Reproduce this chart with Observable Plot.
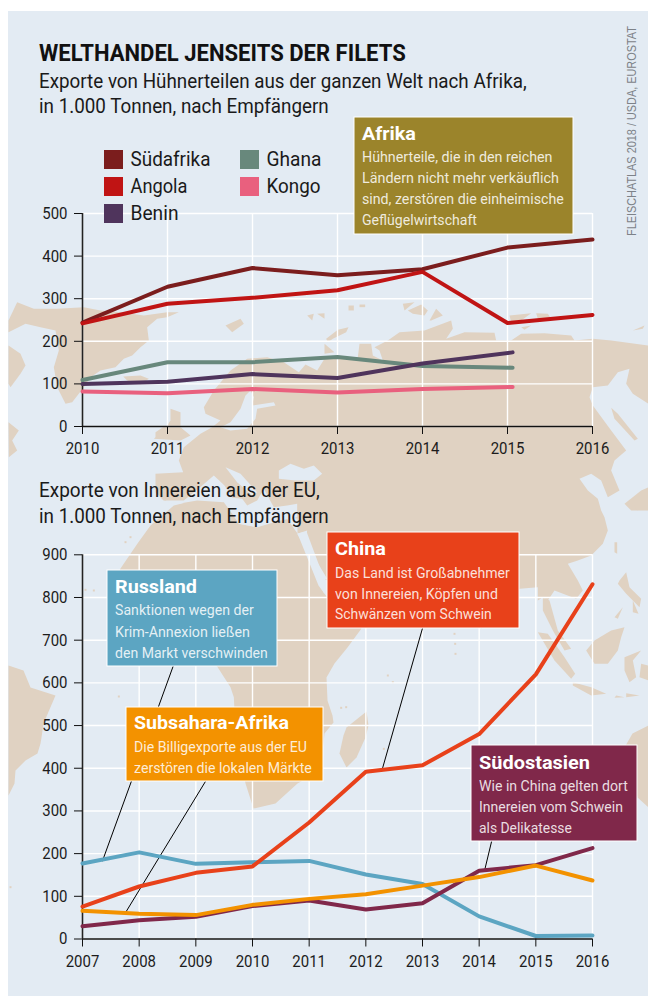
<!DOCTYPE html>
<html><head><meta charset="utf-8">
<script src="https://cdn.jsdelivr.net/npm/d3@7"></script>
<script src="https://cdn.jsdelivr.net/npm/@observablehq/plot@0.6"></script>
<style>
html,body{margin:0;padding:0;background:#fff}
#page{position:relative;width:648px;height:997px;overflow:hidden;background:#fff}
#panel{position:absolute;left:8px;top:11px;width:640px;height:985px;background:#e3ebf3}
svg{display:block}
</style></head><body><div id="page"><div id="panel"></div></div>
<script>
// ---- chart data ----
const yearsTop = [2010,2011,2012,2013,2014,2015,2016];
const yearsTopShort = [2010,2011,2012,2013,2014,2015.06];
const suedafrika = [244,328,372,355,369,420,439];
const angola     = [242,288,302,320,363,243,262];
const ghana      = [109,151,151,163,142,138];
const benin      = [100,105,123,114,148,174];
const kongo      = [82,78,88,80,88,93];

const yearsBottom = [2007,2008,2009,2010,2011,2012,2013,2014,2015,2016];
const russland    = [177,203,176,180,183,151,129,53,7,8];
const suedostasien= [30,44,52,77,90,69,84,160,173,213];
const china       = [76,123,155,170,273,392,407,480,620,831];
const subsahara   = [66,59,56,80,94,105,125,145,172,137];

const yTicksTop = [0,100,200,300,400,500];
const yTicksBottom = [0,100,200,300,400,500,600,700,800,900];

const colors = {Südafrika:"#7b1d1d",Angola:"#c01414",Ghana:"#68887c",Benin:"#4f345c",Kongo:"#e9607e",
  Russland:"#5ca5c2",Südostasien:"#80284a",China:"#e8411a",Subsahara:"#f39200",Afrika:"#9b842b"};

const leaders = [
  {x1:2008.6,y1:639,x2:2007.35,y2:182},
  {x1:2009.17,y1:369,x2:2007.76,y2:62},
  {x1:2013,y1:728,x2:2012.28,y2:393},
  {x1:2014.22,y1:229,x2:2014.1,y2:163}
];

const FONT = "Roboto, 'Liberation Sans', sans-serif";
const page = document.getElementById("page");

// ---- background world map (decorative, page pixel coordinates) ----
const tile=(ox,oy)=>p=>p.map(([x,y])=>[ox+x/3,oy+y/3]);
const z5=tile(0,290), z6=tile(324,290), z7=tile(0,500), z8=tile(324,500), z9=tile(100,410), z10=tile(0,720);
const eurasia = [
 ...z5([[615,370],[610,350],[640,300],[690,240],[740,205],[800,200],[850,215],[895,245],[915,222],[950,240],[972,205]]),
 ...z6([[15,205],[60,205],[100,200],[105,160],[140,160],[145,195],[175,210],[165,180],[150,170],[190,150],[225,125],[300,120],[380,90],[385,115],[365,145],[420,125],[510,127],[515,150],[560,150],[590,130],[660,128],[740,135],[750,150],[805,145],[860,150],[972,165],[972,340],[925,310],[905,280],[915,235],[880,245],[850,285],[805,290],[795,320],[805,345],[860,420],[905,480],[870,510],[860,540],[885,600],[850,620],[830,570],[800,550],[765,565],[790,600],[820,625],[830,660]]),
 ...z8([[840,50],[850,90],[835,130],[800,165],[760,180],[730,190],[760,240],[775,270],[755,295],[690,270],[670,300],[655,290],[640,300],[640,260],[586,265],[470,385]]),
 [470,600],[400,610],[345,625],[335,620],[328,590],[306,531],[297,533],[297,518],[163,500],
 ...z9([[165,245],[165,190],[248,185],[235,150],[250,110],[300,70],[335,50],[360,30]])
];
const africa = [
 ...z9([[220,285],[290,268],[380,268],[415,340],[470,350],[530,325],[560,325]]),
 [297,533],[318,585],[340,615],[361,628],[347,647],[334,663],[326,677],[327,700],[332,715],[333,722],[324,733],[320,770],[297,783],[275,803],[253,808],[245,783],[235,730],
 ...z7([[700,590],[690,560],[650,498]]),
 [150,620],[115,580],[120,568],[137,543],[150,525]
];
const greenland = z5([[24,90],[50,35],[100,55],[170,55],[250,50],[300,60],[360,65],[430,75],[500,65],[535,65],[500,80],[470,85],[440,110],[445,150],[420,170],[395,195],[370,205],[345,230],[300,240],[270,260],[250,290],[215,335],[195,340],[170,290],[160,230],[175,180],[165,120],[120,110],[75,100],[24,125]]);
const southAmerica = [[8,665],[23,670],[30,687],[55,695],[43,723],[41,737],[40,743],[37,753],[25,760],[15,770],[14,783],[8,795]];
const australia = [[624,747],[632,733],[648,725],[648,807],[637,797]];
const islands = [
 z5([[24,165],[60,190],[75,225],[60,250],[30,290],[24,280]]),
 z5([[24,395],[55,420],[35,450],[50,480],[25,500]]),
 z5([[368,258],[420,255],[445,265],[420,282],[380,270]]),
 z5([[675,105],[720,85],[730,100],[695,125]]),
 z5([[920,75],[940,70],[935,90]]),
 z5([[950,70],[972,68],[972,85]]),
 z5([[510,355],[540,365],[540,410],[570,435],[540,450],[460,445],[490,420],[510,390]]),
 z9([[165,65],[195,45],[200,80],[165,85]]),
 z6([[5,145],[40,118],[72,110],[65,125],[25,145],[10,155]]),
 z6([[0,160],[30,185],[0,190]]),
 z6([[72,45],[88,45],[88,60],[72,60]]),z6([[105,42],[122,42],[122,50],[105,50]]),
 z6([[235,40],[270,35],[240,60]]),
 z6([[250,60],[290,42],[310,60],[300,75],[265,70]]),
 z6([[315,90],[335,55],[355,75],[320,90]]),
 z6([[555,75],[620,68],[590,90],[560,95]]),
 z6([[635,68],[670,70],[680,85],[640,85]]),
 z6([[590,110],[620,105],[600,118]]),
 z6([[925,120],[960,105],[955,115]]),
 z6([[900,640],[950,600],[972,590],[972,660],[920,660]]),
 z8([[655,290],[675,300],[700,390],[740,445],[720,450],[685,390],[655,330]]),
 z8([[640,395],[670,400],[720,470],[752,520],[740,535],[690,480]]),
 z8([[745,545],[800,560],[845,580],[800,585],[745,555]]),
 z8([[810,420],[860,390],[900,380],[890,410],[880,450],[850,490],[810,490],[785,450]]),
 z8([[900,470],[950,450],[925,480],[935,530],[915,545],[900,510]]),
 z8([[885,240],[905,215],[915,260],[950,295],[945,320],[905,280],[880,250]]),
 z8([[925,300],[942,340],[925,335]]),
 z8([[870,125],[878,125],[878,160],[870,155]]),
 z8([[870,350],[895,320],[880,355]]),
 z8([[875,585],[900,590],[870,592]]),
 z8([[905,578],[945,585],[905,590]]),
 z8([[950,490],[972,495],[972,540],[945,530]]),
 z8([[920,5],[950,0],[940,30]]),
 [[346,727],[366,711],[368,725],[365,737],[356,757],[346,767],[339,753],[343,735]]
];
const specks = [...z9([[75,395],[90,380]]),...z7([[255,268],[280,270],[355,588]]),...z8([[190,525],[65,620],[50,622],[390,400],[392,430],[393,460],[178,745],[205,545]]),...z10([[30,500]])];
const water = [
 z9([[195,270],[250,270],[305,225],[340,195],[372,225],[395,262],[425,265],[440,285],[470,270],[490,235],[520,290],[560,285],[590,280],[590,320],[540,330],[470,350],[415,340],[395,310],[370,275],[290,270],[220,282]]),
 z9([[375,170],[420,190],[470,245],[455,255],[410,215]]),
 z9([[535,180],[570,160],[610,175],[640,165],[665,190],[640,210],[585,210],[535,205]]),
 z9([[590,370],[620,360],[615,395],[680,505],[650,510],[625,430]]),
 [[316,574],[327,580],[328,595],[323,592]],
 z5([[690,395],[720,355],[735,315],[750,300],[760,320],[755,345],[820,335],[825,345],[770,355],[765,385],[740,415],[690,420],[660,410]]),
 z6([[855,345],[880,365],[945,450],[930,455],[870,385],[850,360]])
];
const sakhalin = z6([[860,352],[880,370],[940,445],[930,450],[870,385]]);
const poly = p=>({type:"Polygon",coordinates:[[...p,p[0]]]});
const square = ([x,y])=>poly([[x-1,y-1],[x+1,y-1],[x+1,y+1],[x-1,y+1]]);
const land = [eurasia,africa,greenland,southAmerica,australia,...islands].map(poly).concat(specks.map(square));
const LAND="#e0d2c2", SEA="#e3ebf3";
const mapPlot = Plot.plot({
  width:648,height:997,margin:0,projection:{type:"identity"},
  style:{background:"transparent"},
  marks:[
    Plot.geo({type:"GeometryCollection",geometries:land},{fill:LAND,stroke:"none"}),
    Plot.geo({type:"GeometryCollection",geometries:water.map(poly)},{fill:SEA,stroke:"none"}),
    Plot.geo(poly(sakhalin),{fill:LAND,stroke:"none"})
  ]
});
mapPlot.style.cssText+=";position:absolute;left:0;top:0";
page.appendChild(mapPlot);

// ---- charts ----
const table=(name,xs,ys)=>xs.map((x,i)=>({x,y:ys[i],name}));
function chart(top,height,mt,mb,xd,yd,xt,yt,series,extra){
  const p = Plot.plot({
    width:648,height,marginLeft:82,marginRight:56,marginTop:mt,marginBottom:mb,
    x:{domain:xd},y:{domain:yd},
    style:{background:"transparent",fontFamily:FONT,fontSize:"17px",color:"#1c1c1c"},
    marks:[
      Plot.gridX(xt,{stroke:"#fff",strokeOpacity:1,strokeWidth:1.4}),
      Plot.gridY(yt,{stroke:"#fff",strokeOpacity:1,strokeWidth:1.4}),
      Plot.ruleX([xd[0]],{stroke:"#222",strokeWidth:1.6}),
      Plot.ruleY([0],{stroke:"#111",strokeWidth:1.5}),
      Plot.axisX({ticks:xt,tickFormat:"d",tickSize:8,tickPadding:7.5,label:null,stroke:"#111"}),
      Plot.axisY({ticks:yt,tickSize:8,tickPadding:7,label:null,stroke:"#111"}),
      ...(extra||[]),
      ...series.map(s=>Plot.line(s.data,{x:"x",y:"y",stroke:s.color,strokeWidth:4,strokeLinecap:"round",strokeLinejoin:"round"}))
    ]
  });
  p.style.cssText+=`;position:absolute;left:0;top:${top}px`;
  page.appendChild(p);
  p.querySelectorAll('g[aria-label$="tick label"] text').forEach(t=>{
    t.setAttribute("lengthAdjust","spacingAndGlyphs");
    t.setAttribute("textLength",(t.getComputedTextLength()*0.88).toFixed(1));
  });
  return p;
}
chart(200,260,13,34,[2010,2016],[0,500],yearsTop,yTicksTop,[
  {data:table("Südafrika",yearsTop,suedafrika),color:colors.Südafrika},
  {data:table("Angola",yearsTop,angola),color:colors.Angola},
  {data:table("Ghana",yearsTopShort,ghana),color:colors.Ghana},
  {data:table("Benin",yearsTopShort,benin),color:colors.Benin},
  {data:table("Kongo",yearsTopShort,kongo),color:colors.Kongo}
]);
chart(540,433,14.3,34.5,[2007,2016],[0,900],yearsBottom,yTicksBottom,[
  {data:table("Russland",yearsBottom,russland),color:colors.Russland},
  {data:table("Südostasien",yearsBottom,suedostasien),color:colors.Südostasien},
  {data:table("China",yearsBottom,china),color:colors.China},
  {data:table("Subsahara",yearsBottom,subsahara),color:colors.Subsahara}
],[Plot.link(leaders,{x1:"x1",y1:"y1",x2:"x2",y2:"y2",stroke:"#000",strokeWidth:1})]);

// ---- titles, legend, call-outs ----
const ov = d3.select(page).append("svg").attr("width",648).attr("height",997)
  .style("position","absolute").style("left",0).style("top",0).style("font-family",FONT);
function txt(s,x,y,size,w,weight,fill,op){
  // each line is squeezed horizontally to the width it has in the reference
  const t = ov.append("text").text(s).attr("font-size",size).attr("font-weight",weight||400)
   .attr("fill",fill||"#1a1a1a").attr("fill-opacity",op||1);
  const k = w/t.node().getComputedTextLength();
  return t.attr("transform",`translate(${x},${y}) scale(${k.toFixed(4)},1)`);
}
txt("WELTHANDEL JENSEITS DER FILETS",39,61,24,367,700,"#111");
txt("Exporte von Hühnerteilen aus der ganzen Welt nach Afrika,",39,88,21,488);
txt("in 1.000 Tonnen, nach Empfängern",39,113,21,290);
txt("Exporte von Innereien aus der EU,",39,497,21,281);
txt("in 1.000 Tonnen, nach Empfängern",39,523,21,290);
{
  const src = ov.append("text").text("FLEISCHATLAS 2018 / USDA, EUROSTAT").attr("font-size",13)
    .attr("fill","#7d8288").style("font-family","'Liberation Sans',sans-serif");
  const k = 210/src.node().getComputedTextLength();
  src.attr("transform",`translate(636,236) rotate(-90) scale(${k.toFixed(4)},1)`);
}

const legendItems=[["Südafrika",104,150,80],["Angola",104,177,57],["Benin",104,204,48],["Ghana",240,150,55],["Kongo",240,177,54]];
legendItems.forEach(([n,x,y,w])=>{
  ov.append("rect").attr("x",x).attr("y",y).attr("width",19).attr("height",19).attr("fill",colors[n]);
  txt(n,x+26.5,y+16,21,w,400,"#1a1a1a");
});

const boxes=[
 {c:colors.Afrika,x:354,y:117,w:219,h:117,tx:362,title:["Afrika",140,54],lines:[["Hühnerteile, die in den reichen",162,190.5],["Ländern nicht mehr verkäuflich",183,197],["sind, zerstören die einheimische",204,202],["Geflügelwirtschaft",225,115]]},
 {c:colors.China,x:327,y:532,w:192,h:96,tx:335,title:["China",555,51],lines:[["Das Land ist Großabnehmer",578,175],["von Innereien, Köpfen und",599,163],["Schwänzen vom Schwein",619,157]]},
 {c:colors.Russland,x:107,y:570,w:170,h:96,tx:115,title:["Russland",593,82],lines:[["Sanktionen wegen der",615,139],["Krim-Annexion ließen",637,135],["den Markt verschwinden",658,153]]},
 {c:colors.Subsahara,x:126,y:707,w:197,h:74,tx:134,title:["Subsahara-Afrika",729,155],lines:[["Die Billigexporte aus der EU",752,173],["zerstören die lokalen Märkte",773,178]]},
 {c:colors.Südostasien,x:471,y:745,w:166,h:96,tx:479,title:["Südostasien",769,111],lines:[["Wie in China gelten dort",791,149],["Innereien vom Schwein",812,144],["als Delikatesse",833,93]]}
];
boxes.forEach(b=>{
  ov.append("rect").attr("x",b.x).attr("y",b.y).attr("width",b.w).attr("height",b.h).attr("fill",b.c).attr("stroke","#fff").attr("stroke-width",1);
  txt(b.title[0],b.tx,b.title[1],19,b.title[2],700,"#fff");
  b.lines.forEach(([s,y,w])=>txt(s,b.tx,y,15,w,400,"#fff",0.85));
});
</script></body></html>
